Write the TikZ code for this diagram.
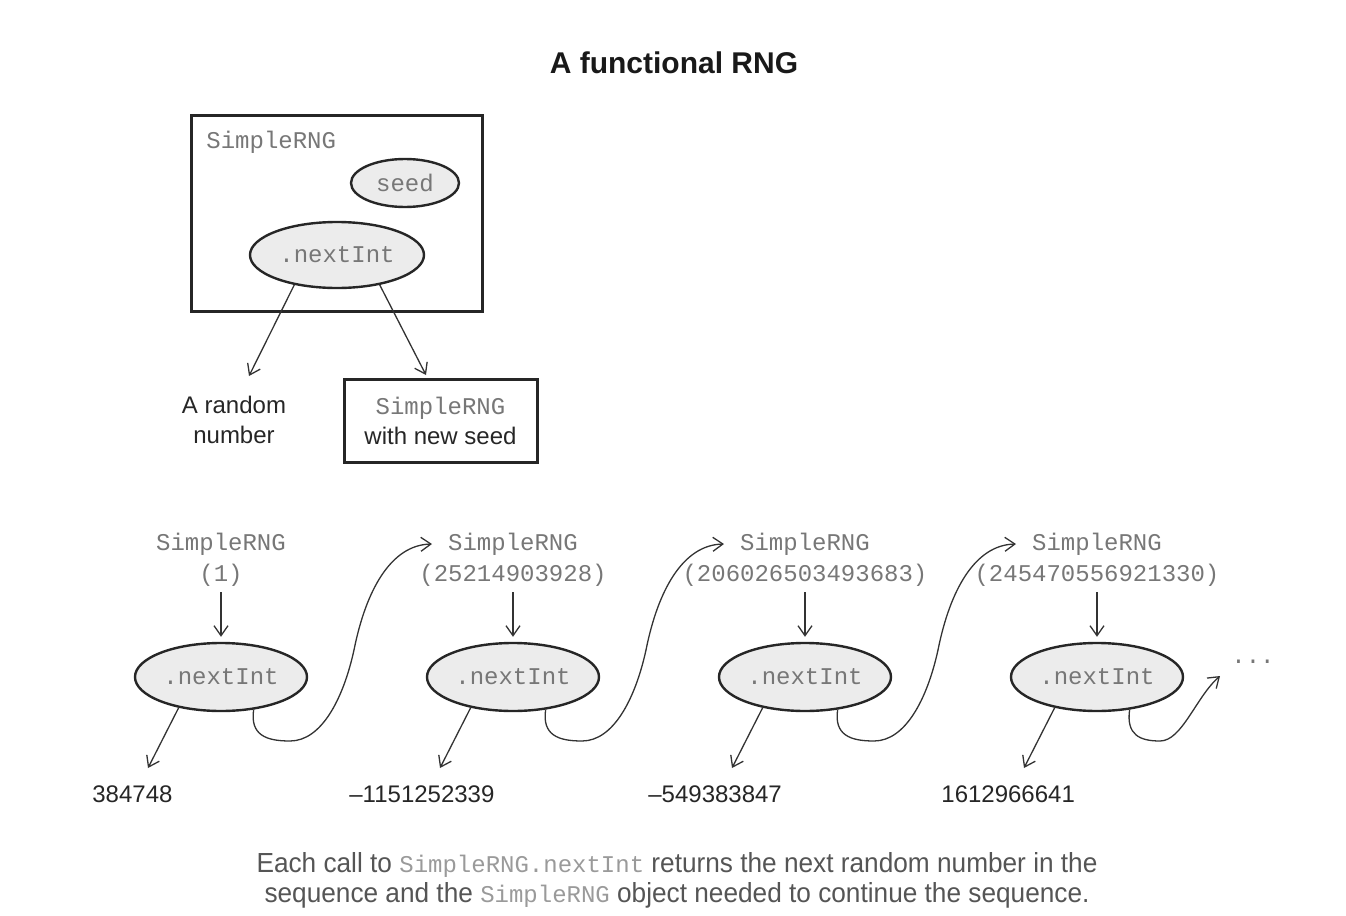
\documentclass[tikz,border=0pt]{standalone}
\usepackage{fontspec}
\setmainfont{Liberation Sans}
\setmonofont{Liberation Mono}
\newfontfamily\capfont[FakeStretch=0.95]{Liberation Sans}
\usetikzlibrary{shapes.geometric,arrows.meta}
\definecolor{monogray}{HTML}{777777}
\definecolor{ellfill}{HTML}{ECECEC}
\definecolor{linegray}{HTML}{333333}
\definecolor{capgray}{HTML}{555555}
\definecolor{capmono}{HTML}{9A9A9A}
\begin{document}
\begin{tikzpicture}[x=0.5pt,y=-0.5pt,
  mono/.style={font=\ttfamily\fontsize{12}{15.5}\selectfont, text=monogray, inner sep=0pt, align=center},
  body/.style={font=\fontsize{12}{15}\selectfont, text=black!85, inner sep=0pt, align=center},
  ell/.style={ellipse, draw=black!85, line width=1.2pt, fill=ellfill, inner sep=0pt,
    font=\ttfamily\fontsize{12}{14}\selectfont, text=monogray},
  arr/.style={-{Straight Barb[length=5pt,width=7pt]}, line width=0.65pt, draw=linegray},
  thickbox/.style={draw=black!85, line width=1.5pt, inner sep=0pt}]
\useasboundingbox (0,0) rectangle (1346,916);

% ---- top part ----
\node[font=\bfseries\fontsize{15}{18}\selectfont, text=black!90] (title) at (674,63) {A functional RNG};
\node[thickbox, minimum width=145.5pt, minimum height=98pt] (outer) at (336.5,213) {};
\node[mono, anchor=west] (lbl) at (206,142) {SimpleRNG};
\node[ell, minimum width=54pt, minimum height=24pt] (seed) at (405,183) {seed};
\node[ell, minimum width=87pt, minimum height=33pt] (tnext) at (337,255) {.nextInt};
\node[body] (rnum) at (234,420) {A random\\number};
\node[thickbox, minimum width=96.5pt, minimum height=41.5pt, align=center,
  font=\fontsize{12}{15}\selectfont, text=black!85] (newrng) at (440.5,420.5)
  {{\ttfamily\color{monogray}SimpleRNG}\\with new seed};
\coordinate (rtip) at (249,376);
\coordinate (ntip) at (426,375);
\draw[arr] (tnext.215) -- (rtip);
\draw[arr] (tnext.-35) -- (ntip);

% ---- bottom chain ----
\foreach \i/\x/\s in {1/221/1, 2/513/25214903928, 3/805/206026503493683, 4/1097/245470556921330}{
  \node[mono] (s\i) at (\x,560) {SimpleRNG\\(\s)};
  \node[ell, minimum width=86pt, minimum height=34pt] (e\i) at (\x,677) {.nextInt};
  \draw[arr, shorten <=2.5pt, shorten >=2.5pt] (s\i.south) -- (e\i.north);
  \coordinate (v\i) at ({\x-73},768);
  \draw[arr] (e\i.216) -- (v\i);
}
\node[body, anchor=west] (n1) at (92,794) {384748};
\node[body, anchor=west] (n2) at (349,794) {--1151252339};
\node[body, anchor=west] (n3) at (648,794) {--549383847};
\node[body, anchor=west] (n4) at (941,794) {1612966641};

\foreach \i/\x in {1/221, 2/513, 3/805}{
  \coordinate (t\i) at ({\x+211},544);
  \draw[arr] (e\i.-45) .. controls ({\x+29},735) and ({\x+45},741) .. ({\x+69},741)
     .. controls ({\x+100},741) and ({\x+122},700) .. ({\x+133},650)
     .. controls ({\x+145},590) and ({\x+170},545) .. (t\i);
}
\coordinate (t4) at (1220,676);
\draw[arr] (e4.-45) .. controls (1126,735) and (1140,741) .. (1160,741)
   .. controls (1182,741) and (1196,697) .. (t4);
\node[mono] (dots) at (1253,662) {...};

% ---- caption ----
\node[font=\capfont\fontsize{13.8}{15}\selectfont, text=capgray, align=center] (cap) at (677,880)
  {Each call to {\ttfamily\fontsize{12}{15}\selectfont\color{capmono}SimpleRNG.nextInt} returns the next random number in the\\
   sequence and the {\ttfamily\fontsize{12}{15}\selectfont\color{capmono}SimpleRNG} object needed to continue the sequence.};
\end{tikzpicture}
\end{document}
